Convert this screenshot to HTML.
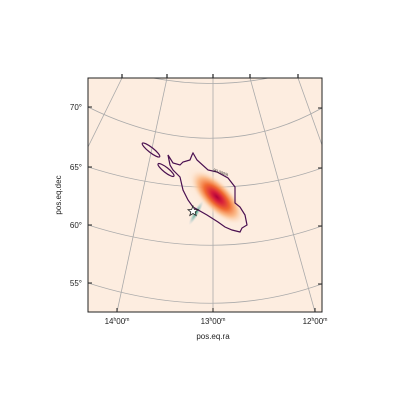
<!DOCTYPE html>
<html><head><meta charset="utf-8"><style>
body{margin:0;background:#fff;width:400px;height:400px;overflow:hidden}
text{font-family:"Liberation Sans","DejaVu Sans",sans-serif;fill:#222}
</style></head><body>
<svg id="chart" width="400" height="400" viewBox="0 0 400 400" xmlns="http://www.w3.org/2000/svg">
<defs>
<clipPath id="clip"><rect x="88" y="78" width="234" height="234"/></clipPath>
<radialGradient id="hot" cx="50%" cy="50%" r="50%">
<stop offset="0" stop-color="#b0003a"/>
<stop offset="0.2" stop-color="#d8203a"/>
<stop offset="0.45" stop-color="#f06a30"/>
<stop offset="0.7" stop-color="#fbb27a" stop-opacity="0.8"/>
<stop offset="1" stop-color="#fdeee0" stop-opacity="0"/>
</radialGradient>
<radialGradient id="halo" cx="50%" cy="50%" r="50%">
<stop offset="0" stop-color="#fbc090" stop-opacity="0.8"/>
<stop offset="1" stop-color="#fdeee0" stop-opacity="0"/>
</radialGradient>
<radialGradient id="grn" cx="50%" cy="50%" r="50%">
<stop offset="0" stop-color="#3a9c80"/>
<stop offset="0.5" stop-color="#7fb8b0" stop-opacity="0.6"/>
<stop offset="1" stop-color="#c8d0e0" stop-opacity="0"/>
</radialGradient>
</defs>
<rect x="88" y="78" width="234" height="234" fill="#fdede0"/>
<g id="grid" clip-path="url(#clip)"></g>
<g clip-path="url(#clip)">
<ellipse cx="215" cy="195" rx="46" ry="20" fill="url(#halo)" transform="rotate(45 215 195)"/>
<ellipse cx="217" cy="197" rx="36" ry="15" fill="url(#hot)" transform="rotate(45 217 197)"/>
<ellipse cx="196" cy="213" rx="14" ry="3" fill="url(#grn)" transform="rotate(-60 196 213)"/>
<path id="contour" fill="none" stroke="#4a1050" stroke-width="1.2"/>
<ellipse cx="151" cy="150" rx="11" ry="2.5" fill="none" stroke="#4a1050" stroke-width="1.2" transform="rotate(38 151 150)"/>
<ellipse cx="166" cy="170" rx="10" ry="2.5" fill="none" stroke="#4a1050" stroke-width="1.2" transform="rotate(38 166 170)"/>
<text x="213" y="171" font-size="4" fill="#4a1050" transform="rotate(20 213 171)">90.000%</text>
<polygon points="193,206 194.4,209.5 198,209.7 195.2,212 196.2,215.5 193,213.5 189.8,215.5 190.8,212 188,209.7 191.6,209.5" fill="#fff" stroke="#222" stroke-width="0.8"/>
</g>
<rect x="88" y="78" width="234" height="234" fill="none" stroke="#222" stroke-width="1"/>
<g id="ticks"></g>
<text x="213" y="339" font-size="8" text-anchor="middle">pos.eq.ra</text>
<text x="0" y="0" font-size="8" text-anchor="middle" transform="translate(61 195) rotate(-90)">pos.eq.dec</text>
</svg>
<script>
const decLabels=["70°","65°","60°","55°"];
const decLeftY=[107,167,225,283];
const decMidY=[138,187,245,303];
const raLabels=["14","13","12"];
const raLines=[[167,78,117,312],[213,78,213,312],[250,78,315,312],[122,78,88,147],[298,78,322,145]];
const contourPts=[[168,155],[173,163],[180,165],[183,162],[190,160],[192,155],[193,153],[197,160],[208,170],[217,172],[228,178],[235,187],[235,203],[240,207],[245,215],[247,225],[242,228],[240,232],[232,230],[225,227],[218,222],[207,215],[193,207],[188,200],[183,190],[180,177],[173,170],[170,165]];
const NS="http://www.w3.org/2000/svg";
const gridG=document.getElementById('grid'),ticksG=document.getElementById('ticks');
function mk(p,tag,a){const e=document.createElementNS(NS,tag);for(const k in a)e.setAttribute(k,a[k]);p.appendChild(e);return e;}
const topArc=mk(gridG,'path',{d:'M88,60 Q213,106 322,62',fill:'none',stroke:'#aaa','stroke-width':0.8});


decLabels.forEach((l,i)=>{
 const yl=decLeftY[i],ym=decMidY[i],qy=2*ym-yl;
 const g=mk(gridG,'path',{d:`M88,${yl} Q213,${qy} 322,${yl+1}`,fill:'none',stroke:'#aaa','stroke-width':0.8});
 
 
 mk(ticksG,'line',{x1:88,y1:yl,x2:92,y2:yl,stroke:'#222'});
 mk(ticksG,'line',{x1:318,y1:yl+1,x2:322,y2:yl+1,stroke:'#222'});
 const t=mk(ticksG,'text',{x:82,y:yl+3,'font-size':8,'text-anchor':'end'});t.textContent=l;
 
 
});
raLines.forEach(r=>{
 const g=mk(gridG,'line',{x1:r[0],y1:r[1],x2:r[2],y2:r[3],stroke:'#aaa','stroke-width':0.8});
 
 
 mk(ticksG,'line',{x1:r[0],y1:78,x2:r[0],y2:74,stroke:'#222','stroke-width':1.2});
});
[117,213,315].forEach((x,i)=>{
 mk(ticksG,'line',{x1:x,y1:312,x2:x,y2:308,stroke:'#222'});
 const t=mk(ticksG,'text',{x:x,y:324,'font-size':8,'text-anchor':'middle'});
 t.innerHTML=raLabels[i]+'<tspan font-size="5" dy="-3">h</tspan><tspan dy="3">00</tspan><tspan font-size="5" dy="-3">m</tspan>';
 
 
});
document.getElementById('contour').setAttribute('d','M'+contourPts.map(p=>p.join(',')).join(' L')+' Z');
</script>
</body></html>
